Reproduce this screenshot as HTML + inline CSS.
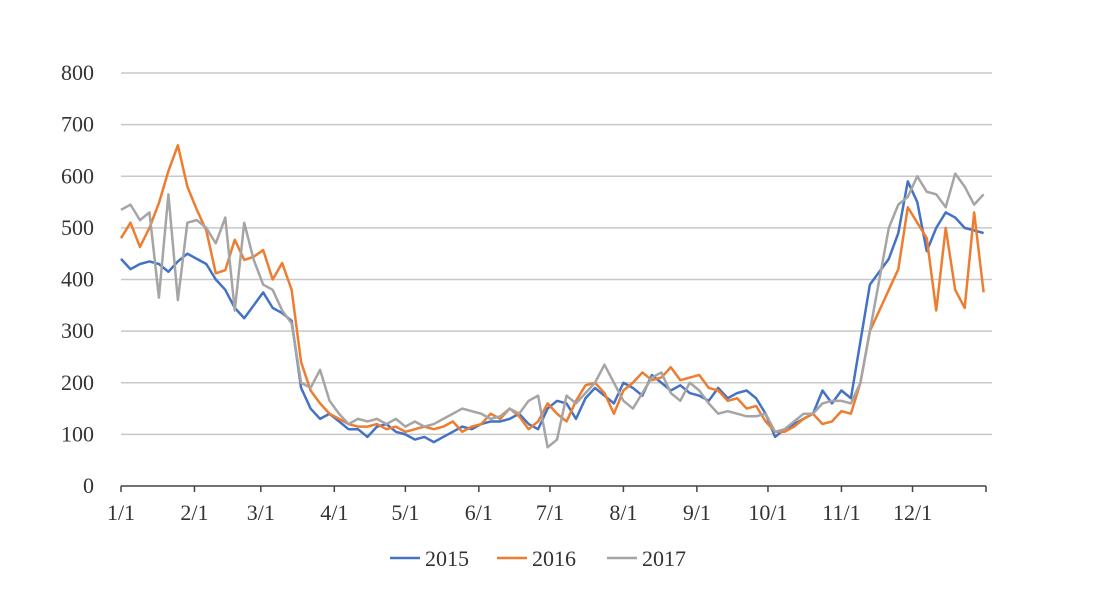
<!DOCTYPE html>
<html><head><meta charset="utf-8"><style>
body{margin:0;background:#fff;}
svg{display:block;font-family:"Liberation Serif",serif;}
</style></head><body>
<svg id="c" width="1105" height="592"></svg>
<script>
const months=["1/1","2/1","3/1","4/1","5/1","6/1","7/1","8/1","9/1","10/1","11/1","12/1"];
const monthDays=[0,31,59,90,120,151,181,212,243,273,304,334];
const yTicks=[0,100,200,300,400,500,600,700,800];
const step=4;
const s2015=[440,420,430,435,430,415,435,450,440,430,400,380,345,325,350,375,345,335,320,190,150,130,140,125,110,110,95,115,120,105,100,90,95,85,95,105,115,110,120,125,125,130,140,120,110,150,165,160,130,170,190,175,160,200,190,175,215,200,185,195,180,175,165,190,170,180,185,170,140,95,110,120,130,140,185,160,185,170,280,390,415,440,490,590,550,455,500,530,520,500,495,490];
const s2016=[480,510,463,500,548,610,660,580,535,495,412,418,477,438,444,457,400,432,380,240,185,160,140,130,120,115,115,120,110,115,105,110,115,110,115,125,105,115,120,140,130,150,135,110,125,160,140,125,165,195,200,180,140,185,200,220,205,210,230,205,210,215,190,185,165,170,150,155,125,105,105,115,130,140,120,125,145,140,200,300,340,380,420,540,510,480,340,500,380,345,530,375];
const s2017=[535,545,515,530,365,565,360,510,515,500,470,520,340,510,438,390,380,340,315,200,190,225,165,140,120,130,125,130,120,130,115,125,115,120,130,140,150,145,140,130,135,150,140,165,175,75,90,175,160,180,200,235,200,165,150,180,210,220,180,165,200,185,160,140,145,140,135,135,140,105,110,125,140,140,160,165,165,160,200,300,400,500,545,560,600,570,565,540,605,580,545,565];
const series=[{n:"2015",v:s2015,c:"#4472c4"},{n:"2016",v:s2016,c:"#ed7d31"},{n:"2017",v:s2017,c:"#a5a5a5"}];
const x0=121,x1=986,yb=486,yt=73;
const X=d=>x0+(x1-x0)*d/365;
const Y=v=>yb-(yb-yt)*v/800;
const svg=document.getElementById('c');
const NS="http://www.w3.org/2000/svg";
function mk(t,a){const e=document.createElementNS(NS,t);for(const k in a)e.setAttribute(k,a[k]);svg.appendChild(e);return e;}
yTicks.forEach(v=>{
  if(v>0){const g=mk('line',{x1:x0,x2:992,y1:Y(v),y2:Y(v),stroke:'#c8c8c8','stroke-width':1.5});
  
  }
  const t=mk('text',{x:94,y:Y(v)+7,'text-anchor':'end','font-size':22,fill:'#333'});t.textContent=v;
  
  
});
const ax=mk('line',{x1:x0,x2:x1,y1:yb,y2:yb,stroke:'#444','stroke-width':1.5});


monthDays.concat([365]).forEach(d=>{const l=mk('line',{x1:X(d),x2:X(d),y1:yb,y2:yb+6,stroke:'#444','stroke-width':1.5});
  
  });
months.forEach((m,i)=>{const t=mk('text',{x:X(monthDays[i]),y:520,'text-anchor':'middle','font-size':22,fill:'#333'});t.textContent=m;
  
  });
series.forEach((s,k)=>{
  const pts=s.v.map((v,i)=>X(Math.min(i*step,364))+','+Y(v)).join(' ');
  const p=mk('polyline',{points:pts,fill:'none',stroke:s.c,'stroke-width':2.5,'stroke-linejoin':'round'});
  
  
  const lx=[390,497,607][k];
  const l=mk('line',{x1:lx,x2:lx+30,y1:558,y2:558,stroke:s.c,'stroke-width':2.5});
  
  
  const t=mk('text',{x:lx+35,y:566,'font-size':22,fill:'#333'});t.textContent=s.n;
  
  
});
</script>
</body></html>
